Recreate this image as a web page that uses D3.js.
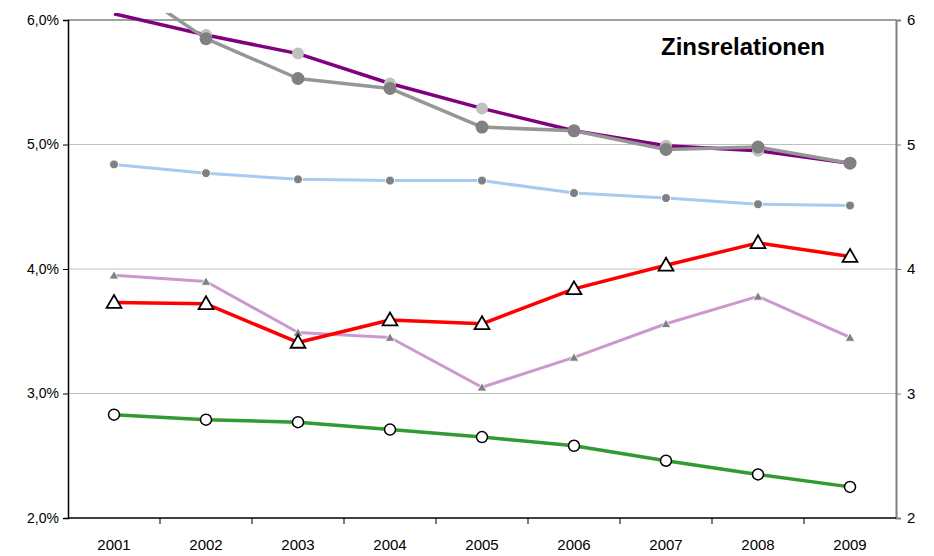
<!DOCTYPE html>
<html>
<head>
<meta charset="utf-8">
<script src="https://cdn.jsdelivr.net/npm/d3@7"></script>
<style>
  body { margin: 0; background: #fff; }
  text { font-family: "Liberation Sans", Arial, sans-serif; }
</style>
</head>
<body>
<div id="chart"></div>
<script>
var years = ["2001", "2002", "2003", "2004", "2005", "2006", "2007", "2008", "2009"];
var leftTicks = [2, 3, 4, 5, 6];
var purple = [6.05, 5.88, 5.73, 5.49, 5.29, 5.11, 4.99, 4.95, 4.85];
var grey = [6.35, 5.85, 5.53, 5.45, 5.14, 5.11, 4.96, 4.98, 4.85];
var lightBlue = [4.84, 4.77, 4.72, 4.71, 4.71, 4.61, 4.57, 4.52, 4.51];
var red = [3.73, 3.72, 3.41, 3.59, 3.56, 3.84, 4.03, 4.21, 4.10];
var lilac = [3.95, 3.90, 3.49, 3.45, 3.05, 3.29, 3.56, 3.78, 3.45];
var green = [2.83, 2.79, 2.77, 2.71, 2.65, 2.58, 2.46, 2.35, 2.25];

var width = 934, height = 556,
    marginLeft = 68, marginRight = 38, marginTop = 20, marginBottom = 38;

var svg = d3.select("#chart").append("svg")
    .attr("width", width)
    .attr("height", height);

var x = d3.scaleBand().domain(years).range([marginLeft, width - marginRight]);
var y = d3.scaleLinear().domain([2, 6]).range([height - marginBottom, marginTop]);

// gridlines
svg.selectAll(".grid")
    .data([3, 4, 5])
  .enter().append("line")
    .attr("x1", marginLeft).attr("x2", width - marginRight)
    .attr("y1", function(d){ return y(d); })
    .attr("y2", function(d){ return y(d); })
    .style("stroke", "#c0c0c0")
    .style("stroke-width", 1);

svg.append("line")
    .attr("x1", marginLeft).attr("x2", width - marginRight)
    .attr("y1", y(6)).attr("y2", y(6))
    .style("stroke", "#808080").style("stroke-width", 1.5);

// left axis
var leftAxis = svg.append("g")
    .attr("transform", "translate(" + marginLeft + ",0)")
    .call(d3.axisLeft(y).tickValues(leftTicks).tickSize(5).tickPadding(4)
      .tickFormat(function(d){ return d.toFixed(1).replace(".", ",") + "%"; }));
leftAxis.select(".domain").style("stroke", "#000").style("stroke-width", 1.5);
leftAxis.selectAll("text").style("font-size", "14px").style("fill", "#000");

// right axis
var rightAxis = svg.append("g")
    .attr("transform", "translate(" + (width - marginRight) + ",0)")
    .call(d3.axisRight(y).tickValues(leftTicks).tickSize(5).tickPadding(6)
      .tickFormat(d3.format("d")));
rightAxis.select(".domain").style("stroke", "#808080").style("stroke-width", 2);
rightAxis.selectAll("line").style("stroke", "#808080");
rightAxis.selectAll("text").style("font-size", "15px").style("fill", "#000");

// bottom axis with ticks on band edges
var bottom = svg.append("g")
    .attr("transform", "translate(0," + y(2) + ")");
bottom.append("line")
    .attr("x1", marginLeft).attr("x2", width - marginRight)
    .style("stroke", "#000").style("stroke-width", 1.5);
bottom.selectAll(".tick")
    .data(years.slice(1))
  .enter().append("line")
    .attr("x1", function(d){ return x(d); })
    .attr("x2", function(d){ return x(d); })
    .attr("y1", 0).attr("y2", 6)
    .style("stroke", "#000");
bottom.selectAll(".lbl")
    .data(years)
  .enter().append("text")
    .attr("x", function(d){ return x(d) + x.bandwidth() / 2; })
    .attr("y", 32)
    .attr("text-anchor", "middle")
    .style("font-size", "15px")
    .text(function(d){ return d; });

svg.append("clipPath").attr("id", "clip")
  .append("rect")
    .attr("x", 0).attr("y", 13)
    .attr("width", width).attr("height", height);

var cx = function(d, i){ return x(years[i]) + x.bandwidth() / 2; };
var line = d3.line().x(cx).y(function(d){ return y(d); });

function drawSeries(vals, color, w){
  svg.append("path")
      .datum(vals)
      .attr("clip-path", "url(#clip)")
      .attr("d", line)
      .style("fill", "none")
      .style("stroke", color)
      .style("stroke-width", w)
      .style("stroke-linejoin", "round");
}

function drawCircles(vals, r, fill, stroke, sw){
  svg.append("g").selectAll("circle")
      .data(vals.map(function(v, i){ return {v: v, i: i}; }).filter(function(d){ return d.v <= 6; }))
    .enter().append("circle")
      .attr("cx", function(d){ return cx(d, d.i); })
      .attr("cy", function(d){ return y(d.v); })
      .attr("r", r)
      .style("fill", fill)
      .style("stroke", stroke)
      .style("stroke-width", sw);
}

function drawTriangles(vals, size, fill, stroke, sw){
  var sym = d3.symbol().type(d3.symbolTriangle).size(size);
  svg.append("g").selectAll("path")
      .data(vals)
    .enter().append("path")
      .attr("transform", function(d, i){ return "translate(" + cx(d, i) + "," + (y(d) + 1) + ")"; })
      .attr("d", sym)
      .style("fill", fill)
      .style("stroke", stroke)
      .style("stroke-width", sw);
}

drawSeries(lilac, "#cc99cc", 3);
drawTriangles(lilac, 40, "#808080", "#fff", 0.8);

drawSeries(green, "#339933", 3.5);
drawCircles(green, 5.5, "#fff", "#000", 1.5);

drawSeries(red, "#ff0000", 3.5);
drawTriangles(red, 95, "#fff", "#000", 1.8);

drawSeries(lightBlue, "#a6caf0", 3);
drawCircles(lightBlue, 4.5, "#808080", "#fff", 1);

drawSeries(purple, "#800080", 3.5);
drawCircles(purple, 6, "#c0c0c0", "none", 0);

drawSeries(grey, "#969696", 3.5);
drawCircles(grey, 6.5, "#808080", "none", 0);

svg.append("text")
    .attr("x", 743)
    .attr("y", 55)
    .attr("text-anchor", "middle")
    .style("font-size", "24px")
    .style("font-weight", "bold")
    .text("Zinsrelationen");
</script>
</body>
</html>
